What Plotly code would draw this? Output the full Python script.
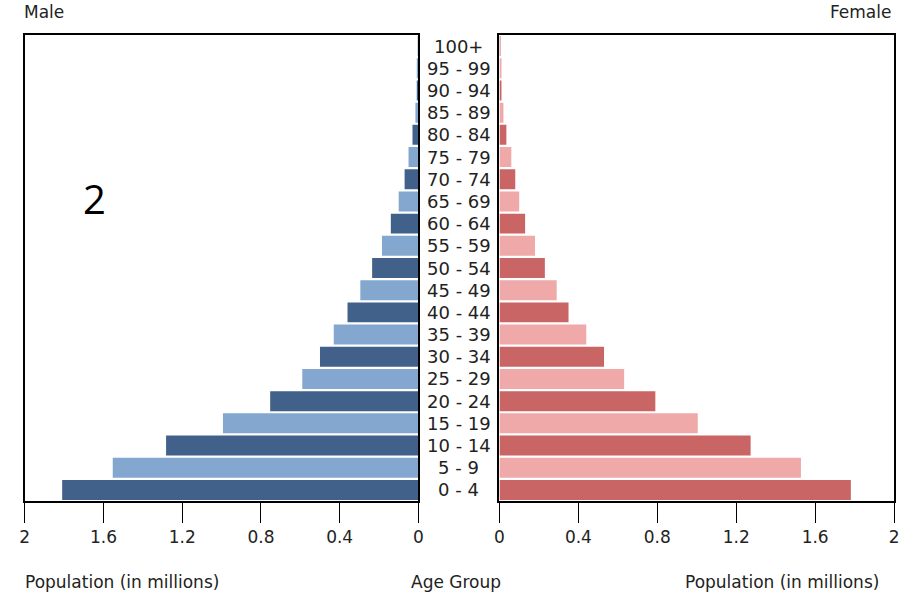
import plotly.graph_objects as go

age_groups = ["0 - 4", "5 - 9", "10 - 14", "15 - 19", "20 - 24", "25 - 29", "30 - 34",
              "35 - 39", "40 - 44", "45 - 49", "50 - 54", "55 - 59", "60 - 64", "65 - 69",
              "70 - 74", "75 - 79", "80 - 84", "85 - 89", "90 - 94", "95 - 99", "100+"]
male = [1.81, 1.553, 1.282, 0.993, 0.753, 0.59, 0.50, 0.43, 0.36, 0.295, 0.235, 0.185,
        0.14, 0.10, 0.07, 0.05, 0.03, 0.015, 0.008, 0.005, 0.003]
female = [1.781, 1.528, 1.273, 1.005, 0.79, 0.632, 0.53, 0.44, 0.35, 0.29, 0.23, 0.18,
          0.13, 0.10, 0.08, 0.06, 0.035, 0.02, 0.01, 0.007, 0.005]
tick_vals = [0, 0.4, 0.8, 1.2, 1.6, 2]
tick_text = ["0", "0.4", "0.8", "1.2", "1.6", "2"]

male_colors = ["#41618a" if i % 2 == 0 else "#84a7d0" for i in range(len(age_groups))]
female_colors = ["#c96565" if i % 2 == 0 else "#f0a9a9" for i in range(len(age_groups))]
idx = list(range(len(age_groups)))

W, H = 905, 596
fig = go.Figure()
fig.add_trace(go.Bar(x=male, y=idx, orientation="h", marker=dict(color=male_colors, line=dict(width=0)),
                     xaxis="x", yaxis="y", showlegend=False))
fig.add_trace(go.Bar(x=female, y=idx, orientation="h", marker=dict(color=female_colors, line=dict(width=0)),
                     xaxis="x2", yaxis="y2", showlegend=False))

ydom = [1 - 501 / H, 1 - 35 / H]
axis_common = dict(showline=True, mirror=True, linecolor="black", linewidth=1.5, showgrid=False,
                   zeroline=False, ticks="outside", ticklen=20, tickcolor="black", tickwidth=1.2,
                   tickvals=tick_vals, ticktext=tick_text, tickfont=dict(family="DejaVu Sans", size=17, color="#222"))
yaxis_common = dict(showline=True, mirror=True, linecolor="black", linewidth=1.5, showgrid=False,
                    zeroline=False, showticklabels=False, ticks="", range=[-0.5, len(age_groups) - 0.5],
                    domain=ydom, fixedrange=True)

fig.update_layout(
    width=W, height=H, margin=dict(l=0, r=0, t=0, b=0),
    plot_bgcolor="white", paper_bgcolor="white", bargap=0.1,
    xaxis=dict(domain=[20 / W, 418 / W], range=[2, 0], anchor="y", **axis_common),
    xaxis2=dict(domain=[500 / W, 899 / W], range=[0, 2], anchor="y2", **axis_common),
    yaxis=dict(anchor="x", **yaxis_common),
    yaxis2=dict(anchor="x2", **yaxis_common),
)

for i, g in enumerate(age_groups):
    fig.add_annotation(x=459 / W, xref="paper", y=i, yref="y", text=g, showarrow=False,
                       xanchor="center", yanchor="middle",
                       font=dict(family="DejaVu Sans", size=18, color="#222"))

texts = [
    ("Male", 17 / W, 1 - 12 / H, "left", 17),
    ("Female", 898 / W, 1 - 12 / H, "right", 17),
    ("Population (in millions)", 18 / W, 1 - 582 / H, "left", 17),
    ("Age Group", 456 / W, 1 - 582 / H, "center", 17),
    ("Population (in millions)", 886 / W, 1 - 582 / H, "right", 17),
]
for t, x, y, xa, s in texts:
    fig.add_annotation(x=x, y=y, xref="paper", yref="paper", text=t, showarrow=False,
                       xanchor=xa, yanchor="middle", font=dict(family="DejaVu Sans", size=s, color="#222"))

fig.add_annotation(x=90 / W, y=1 - 198 / H, xref="paper", yref="paper", text="2", showarrow=False,
                   xanchor="center", yanchor="middle", font=dict(family="Open Sans", size=40, color="black"))

fig.write_html("out.html", config={"displayModeBar": False},
               post_script="document.body.style.margin='0';document.body.style.overflow='hidden';")
